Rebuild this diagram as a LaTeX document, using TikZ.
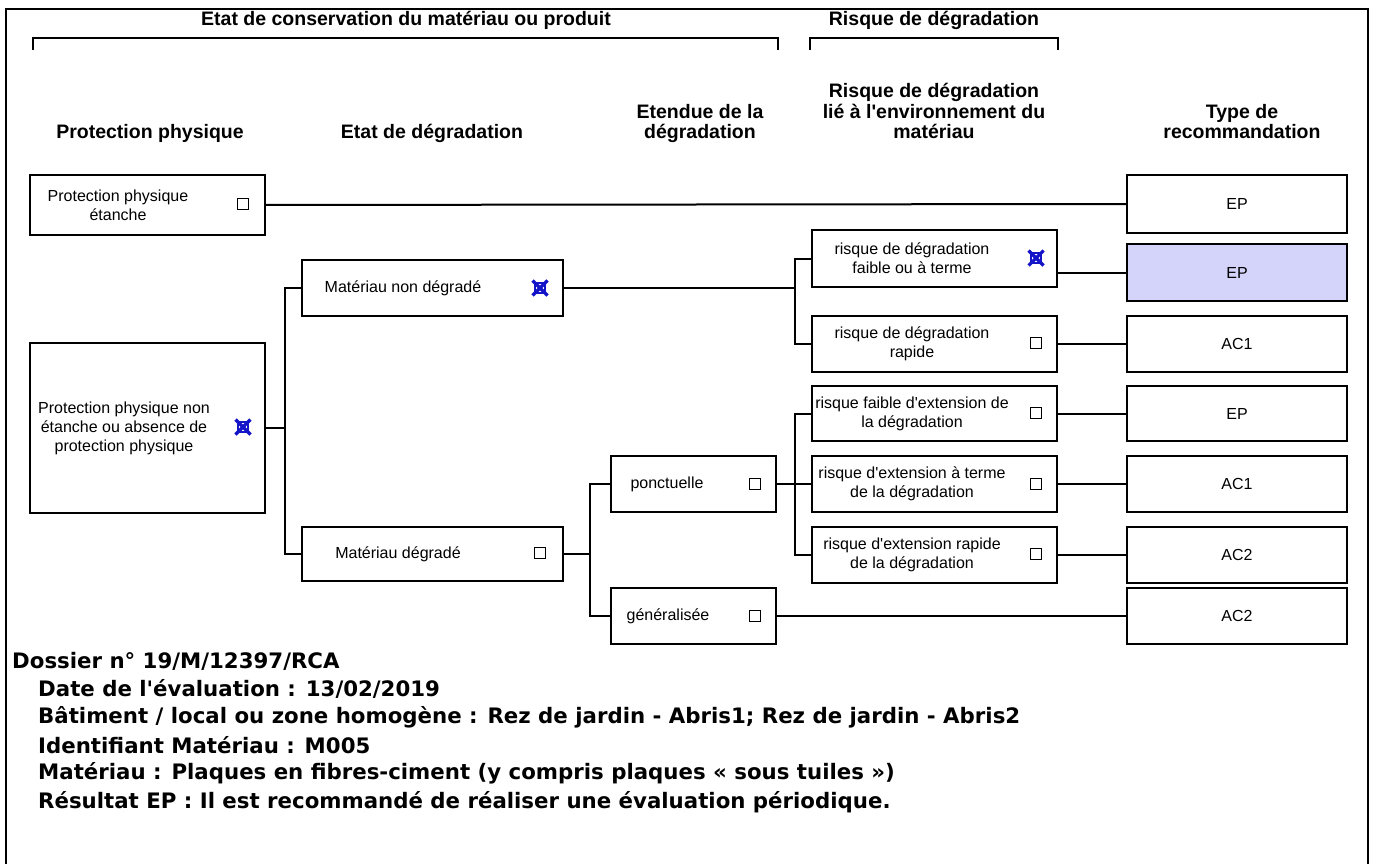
\documentclass[tikz,border=0pt]{standalone}
\usepackage{fontspec}
\setmainfont{Liberation Sans}[Ligatures=TeXOff]
\newfontfamily\vfont{DejaVu Sans}[Ligatures=TeXOff]
\definecolor{chkblue}{RGB}{20,20,200}
\definecolor{selfill}{RGB}{212,212,250}
\begin{document}
\begin{tikzpicture}[x=1pt,y=-1pt,
  box/.style={draw, line width=2pt, inner sep=0pt},
  txt/.style={align=center, inner sep=0pt, font=\fontsize{16}{19}\selectfont},
  hdr/.style={align=center, inner sep=0pt, font=\fontsize{19.5}{20.5}\selectfont\bfseries},
  conn/.style={line width=2pt},
  brk/.style={line width=1.8pt},
  cbox/.style={draw, line width=1.1pt, minimum size=11pt, inner sep=0pt},
  cboxx/.style={draw=chkblue, line width=1.4pt, minimum size=10pt, inner sep=0pt},
  xln/.style={draw=chkblue, line width=3.2pt},
  foot/.style={anchor=west, inner sep=0pt, font=\vfont\fontsize{21.3}{24}\selectfont\bfseries}]
\useasboundingbox (0,0) rectangle (1376,864);
% outer frame
\draw[line width=2.6pt] (6,864) -- (6,9) -- (1368,9) -- (1368,864);
% top brackets
\node[hdr] (t1) at (406,20) {Etat de conservation du matériau ou produit};
\draw[brk] (33,50) -- (33,38) -- (778,38) -- (778,50);
\node[hdr] (t2) at (934,20) {Risque de dégradation};
\draw[brk] (810,50) -- (810,38) -- (1058,38) -- (1058,50);
% column headers
\node[hdr, anchor=base] (h1) at (150,139) {Protection physique};
\node[hdr, anchor=base] (h2) at (432,139) {Etat de dégradation};
\node[hdr, anchor=base] (h3) at (700,139) {Etendue de la\\dégradation};
\node[hdr, anchor=base] (h4) at (934,139) {Risque de dégradation\\lié à l'environnement du\\matériau};
\node[hdr, anchor=base] (h5) at (1242,139) {Type de\\recommandation};
% column 1
\node[box, minimum width=235pt, minimum height=60pt] (b1) at (147.5,205) {};
\node[txt] at (118,205) {Protection physique\\étanche};
\node[cbox] at (243,204) {};
\node[box, minimum width=235pt, minimum height=170pt] (b2) at (147.5,428) {};
\node[txt] at (124,428) {Protection physique non\\étanche ou absence de\\protection physique};
\node[cboxx] (x2) at (243,427) {};
\draw[xln] (235.5,419.5) -- (250.5,434.5) (235.5,434.5) -- (250.5,419.5);
% column 2
\node[box, minimum width=261pt, minimum height=56pt] (b3) at (432.5,288) {};
\node[txt] at (403,288) {Matériau non dégradé};
\node[cboxx] (x3) at (540,288) {};
\draw[xln] (532.5,280.5) -- (547.5,295.5) (532.5,295.5) -- (547.5,280.5);
\node[box, minimum width=261pt, minimum height=54pt] (b4) at (432.5,554) {};
\node[txt] at (398,554) {Matériau dégradé};
\node[cbox] at (540,553) {};
% column 3
\node[box, minimum width=165pt, minimum height=56pt] (b5) at (693.5,484) {};
\node[txt] at (667,484) {ponctuelle};
\node[cbox] at (755,484) {};
\node[box, minimum width=165pt, minimum height=56pt] (b6) at (693.5,616) {};
\node[txt] at (668,616) {généralisée};
\node[cbox] at (755,616) {};
% column 4
\node[box, minimum width=245pt, minimum height=57pt] (b7) at (934.5,258.5) {};
\node[txt] at (912,258.5) {risque de dégradation\\faible ou à terme};
\node[cboxx] (x7) at (1036,258) {};
\draw[xln] (1028.5,250.5) -- (1043.5,265.5) (1028.5,265.5) -- (1043.5,250.5);
\node[box, minimum width=245pt, minimum height=56pt] (b8) at (934.5,344) {};
\node[txt] at (912,344) {risque de dégradation\\rapide};
\node[cbox] at (1036,343) {};
\node[box, minimum width=245pt, minimum height=55pt] (b9) at (934.5,413.5) {};
\node[txt] at (912,413.5) {risque faible d'extension de\\la dégradation};
\node[cbox] at (1036,413) {};
\node[box, minimum width=245pt, minimum height=56pt] (b10) at (934.5,484) {};
\node[txt] at (912,484) {risque d'extension à terme\\de la dégradation};
\node[cbox] at (1036,484) {};
\node[box, minimum width=245pt, minimum height=56pt] (b11) at (934.5,555) {};
\node[txt] at (912,555) {risque d'extension rapide\\de la dégradation};
\node[cbox] at (1036,554) {};
% recommendations
\node[box, minimum width=220pt, minimum height=58pt] (r1) at (1237,204) {};
\node[txt] at (r1) {EP};
\node[box, fill=selfill, minimum width=220pt, minimum height=57pt] (r2) at (1237,272.5) {};
\node[txt] at (r2) {EP};
\node[box, minimum width=220pt, minimum height=56pt] (r3) at (1237,344) {};
\node[txt] at (r3) {AC1};
\node[box, minimum width=220pt, minimum height=55pt] (r4) at (1237,413.5) {};
\node[txt] at (r4) {EP};
\node[box, minimum width=220pt, minimum height=56pt] (r5) at (1237,484) {};
\node[txt] at (r5) {AC1};
\node[box, minimum width=220pt, minimum height=56pt] (r6) at (1237,555) {};
\node[txt] at (r6) {AC2};
\node[box, minimum width=220pt, minimum height=56pt] (r7) at (1237,616) {};
\node[txt] at (r7) {AC2};
% junctions
\coordinate (j1) at (285,0);
\coordinate (j2) at (795,0);
\coordinate (j3) at (590,0);
% connectors
\draw[conn] (b1.east) -- (r1.west);
\draw[conn] (b2.east) -- (j1 |- b2.east);
\draw[conn] (b3.west) -| (j1 |- b2.east) |- (b4.west);
\draw[conn] (b3.east) -- (j2 |- b3.east);
\draw[conn] (b7.west) -| (j2 |- b3.east) |- (b8.west);
\draw[conn] (b4.east) -- (j3 |- b4.east);
\draw[conn] (b5.west) -| (j3 |- b4.east) |- (b6.west);
\draw[conn] (b5.east) -- (j2 |- b5.east);
\draw[conn] (b9.west) -| (j2 |- b5.east) |- (b11.west);
\draw[conn] (j2 |- b5.east) -- (b10.west);
\draw[conn] (b7.east |- r2.west) -- (r2.west);
\draw[conn] (b8.east) -- (r3.west);
\draw[conn] (b9.east) -- (r4.west);
\draw[conn] (b10.east) -- (r5.west);
\draw[conn] (b11.east) -- (r6.west);
\draw[conn] (b6.east) -- (r7.west);
% footer
\node[foot] (f1) at (12,661) {Dossier n° 19/M/12397/RCA};
\node[foot] (f2) at (38,689) {Date de l'évaluation : 13/02/2019};
\node[foot] (f3) at (38,717) {Bâtiment / local ou zone homogène : Rez de jardin - Abris1; Rez de jardin - Abris2};
\node[foot] (f4) at (38,745) {Identifiant Matériau : M005};
\node[foot] (f5) at (38,773) {Matériau : Plaques en fibres-ciment (y compris plaques « sous tuiles »)};
\node[foot] (f6) at (38,802) {Résultat EP : Il est recommandé de réaliser une évaluation périodique.};
\end{tikzpicture}
\end{document}
